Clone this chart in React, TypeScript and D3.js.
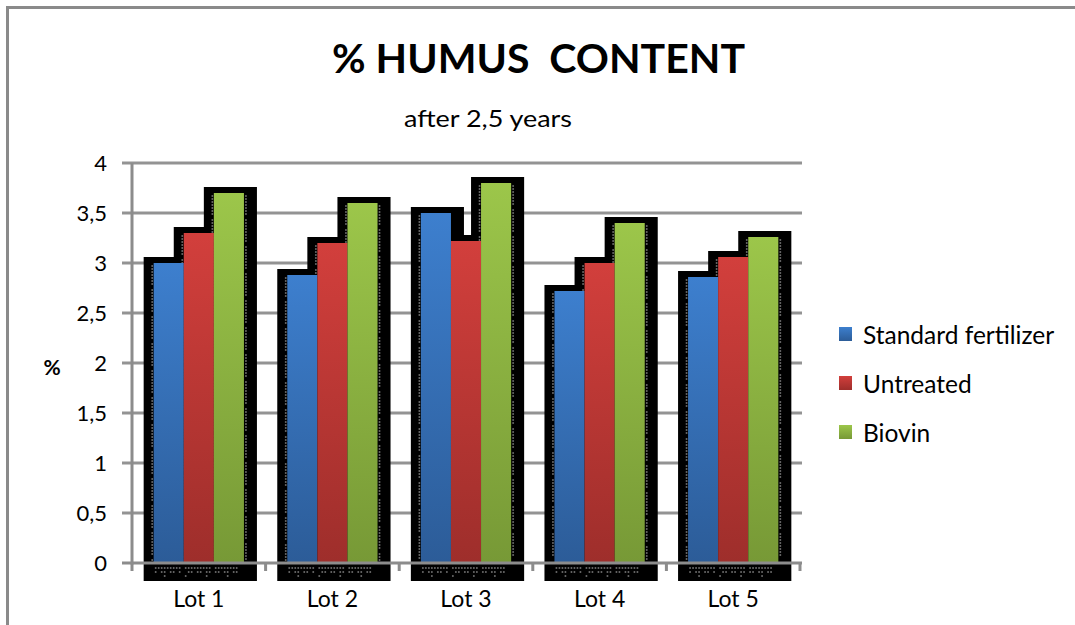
import React from "react";
import * as d3 from "d3";

const lots = ["Lot 1", "Lot 2", "Lot 3", "Lot 4", "Lot 5"];
const seriesNames = ["Standard fertilizer", "Untreated", "Biovin"];
const standardFertilizer = [3.0, 2.88, 3.5, 2.72, 2.86];
const untreated = [3.3, 3.2, 3.22, 3.0, 3.06];
const biovin = [3.7, 3.6, 3.8, 3.4, 3.26];
const yTicks = [0, 0.5, 1, 1.5, 2, 2.5, 3, 3.5, 4];

const seriesValues = [standardFertilizer, untreated, biovin];
const colors = [
  { top: "#3d7fce", bottom: "#2c5c98" },
  { top: "#d23f3c", bottom: "#9e2e2b" },
  { top: "#9cc64a", bottom: "#779936" },
];

const W = 1075;
const H = 625;
const FONT = "Lato, 'Open Sans', 'DejaVu Sans', sans-serif";

export default function App() {
  const x = d3.scaleBand<string>().domain(lots).range([132, 800]).paddingInner(0).paddingOuter(0);
  const inner = d3
    .scaleBand<number>()
    .domain([0, 1, 2])
    .range([0, x.bandwidth()])
    .paddingInner(0)
    .paddingOuter(0.72);
  const y = d3.scaleLinear().domain([0, 4]).range([563, 163]);
  const fmt = (v: number) => String(v).replace(".", ",");
  const base = y(0);
  const bw = inner.bandwidth();

  const bars: { lot: string; s: number; v: number; x: number; y: number }[] = [];
  lots.forEach((lot, i) => {
    seriesValues.forEach((vals, s) => {
      const bx = (x(lot) as number) + (inner(s) as number);
      bars.push({ lot, s, v: vals[i], x: bx, y: y(vals[i]) });
    });
  });

  const dotColumn = (cx: number, y0: number, y1: number, key: string) => {
    const out: JSX.Element[] = [];
    for (let yy = y0 + 3; yy < y1 - 2; yy += 3) {
      if (Math.floor((yy - y0) / 3) % 9 === 8) continue;
      out.push(<circle key={key + yy} cx={cx} cy={yy} r={1} fill="#6a6a6a" />);
    }
    return out;
  };

  return (
    <svg
      width={W}
      height={H}
      style={{ position: "absolute", left: 0, top: 0, background: "#fff" }}
      fontFamily={FONT}
    >
      <defs>
        {colors.map((c, i) => (
          <linearGradient key={i} id={"g" + i} x1="0" y1="0" x2="0" y2="1">
            <stop offset="0" stopColor={c.top} />
            <stop offset="1" stopColor={c.bottom} />
          </linearGradient>
        ))}
      </defs>

      {/* outer border */}
      <path d={`M7.5,${H} L7.5,7.5 L${W},7.5`} fill="none" stroke="#8a8a8a" strokeWidth={3} />

      {/* title */}
      <text
        x={332}
        y={73}
        fontSize={40}
        fontWeight="bold"
        fill="#000"
        textLength={413}
        lengthAdjust="spacingAndGlyphs"
        style={{ whiteSpace: "pre" }}
      >
        {"% HUMUS  CONTENT"}
      </text>
      <text x={404} y={127} fontSize={24} fill="#000" textLength={168} lengthAdjust="spacingAndGlyphs">
        after 2,5 years
      </text>

      {/* gridlines */}
      {yTicks.map((t) =>
        t === 0 ? null : (
          <line key={t} x1={122} x2={802} y1={y(t)} y2={y(t)} stroke="#939393" strokeWidth={3} />
        )
      )}

      {/* shadows */}
      {bars.map((b, i) => (
        <rect key={"sh" + i} x={b.x - 10} y={b.y - 6} width={bw + 23} height={base + 18 - (b.y - 6)} fill="#000" />
      ))}

      {/* dots on shadows */}
      {bars.map((b, i) => (
        <g key={"d" + i}>
          {dotColumn(b.x - 1.5, b.y, base, "l" + i)}
          {b.s === 2 ? dotColumn(b.x + bw + 2, b.y, base, "r" + i) : null}
        </g>
      ))}
      {lots.map((lot) => {
        const out: JSX.Element[] = [];
        const x0 = (x(lot) as number) + (inner(0) as number);
        for (let k = 0; k < 28; k++) {
          const cx = x0 + 2 + k * 3;
          if (k % 10 === 9) continue;
          out.push(<circle key={lot + "a" + k} cx={cx} cy={base + 5} r={1} fill="#6a6a6a" />);
          if (k % 3 !== 1) out.push(<circle key={lot + "b" + k} cx={cx} cy={base + 9} r={1} fill="#6a6a6a" />);
          if (k % 7 === 3) out.push(<circle key={lot + "c" + k} cx={cx} cy={base + 13} r={1} fill="#6a6a6a" />);
        }
        return <g key={"bd" + lot}>{out}</g>;
      })}

      {/* bars */}
      {bars.map((b, i) => (
        <rect key={"b" + i} x={b.x} y={b.y} width={bw} height={base - b.y} fill={`url(#g${b.s})`} />
      ))}

      {/* y axis */}
      <line x1={132} x2={132} y1={163} y2={base + 1.5} stroke="#8c8c8c" strokeWidth={3} />
      {yTicks.map((t) => (
        <text key={"yl" + t} x={107} y={y(t) + 8} textAnchor="end" fontSize={22} fill="#000">
          {fmt(t)}
        </text>
      ))}
      <text x={52} y={375} textAnchor="middle" fontSize={21} fontWeight="bold" fill="#000">
        %
      </text>

      {/* x axis */}
      <line x1={122} x2={802} y1={base} y2={base} stroke="#8c8c8c" strokeWidth={3} />
      {[...lots.map((l) => x(l) as number), 800].map((tx, i) => (
        <line key={"xt" + i} x1={tx} x2={tx} y1={base} y2={base + 8} stroke="#8c8c8c" strokeWidth={3} />
      ))}
      {lots.map((lot) => (
        <text key={"xl" + lot} x={(x(lot) as number) + x.bandwidth() / 2} y={607} textAnchor="middle" fontSize={23} fill="#000">
          {lot}
        </text>
      ))}

      {/* legend */}
      {seriesNames.map((name, i) => (
        <g key={"lg" + i} transform={`translate(839, ${327 + i * 49})`}>
          <rect x={0} y={0} width={13} height={14} fill={`url(#g${i})`} />
          <text x={24} y={17} fontSize={24.5} fill="#000">
            {name}
          </text>
        </g>
      ))}
    </svg>
  );
}
